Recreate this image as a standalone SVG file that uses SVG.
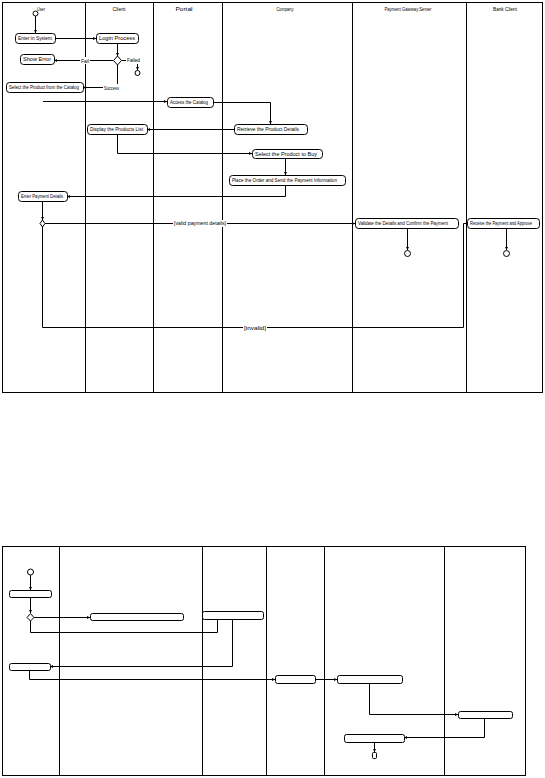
<svg xmlns="http://www.w3.org/2000/svg" width="545" height="778" viewBox="0 0 545 778">
<defs>
<style>
.frame{fill:none;stroke:#000;stroke-width:1}
.lane{stroke:#000;stroke-width:1}
.box{fill:#fff;stroke:#000;stroke-width:1}
.c{fill:none;stroke:#000;stroke-width:1}
.t{font-family:"Liberation Sans",Arial,sans-serif;font-size:4.5px;fill:#000}
.h{font-family:"Liberation Sans",Arial,sans-serif;font-size:4.5px;fill:#000;text-anchor:middle}
.lbl{font-family:"Liberation Sans",Arial,sans-serif;font-size:4.5px;fill:#000;text-anchor:middle}
.node{fill:#fff;stroke:#000;stroke-width:1}
</style>
<marker id="a" viewBox="0 0 6 6" refX="6" refY="3" markerWidth="3" markerHeight="3" orient="auto">
<path d="M0,0 L6,3 L0,6 z" fill="#000"/>
</marker>
</defs>
<rect width="545" height="778" fill="#fff"/>

<g id="top-frame">
<rect class="frame" x="2.5" y="2.5" width="540" height="390"/>
<line class="lane" x1="85.5" y1="2.5" x2="85.5" y2="392.5"/>
<line class="lane" x1="153.5" y1="2.5" x2="153.5" y2="392.5"/>
<line class="lane" x1="222.5" y1="2.5" x2="222.5" y2="392.5"/>
<line class="lane" x1="352.5" y1="2.5" x2="352.5" y2="392.5"/>
<line class="lane" x1="466.5" y1="2.5" x2="466.5" y2="392.5"/>
<text class="h" x="41" y="11" textLength="8" lengthAdjust="spacingAndGlyphs">User</text>
<text class="h" x="119" y="11" textLength="13" lengthAdjust="spacingAndGlyphs">Client</text>
<text class="h" x="184" y="11" textLength="17" lengthAdjust="spacingAndGlyphs">Portal</text>
<text class="h" x="285" y="11" textLength="17" lengthAdjust="spacingAndGlyphs">Company</text>
<text class="h" x="408" y="11" textLength="47" lengthAdjust="spacingAndGlyphs">Payment Gateway Server</text>
<text class="h" x="505" y="11" textLength="24" lengthAdjust="spacingAndGlyphs">Bank Client</text>
</g>

<g id="connectors-top">
<line class="c" x1="35.5" y1="16" x2="35.5" y2="33" marker-end="url(#a)"/>
<line class="c" x1="55" y1="38.5" x2="96" y2="38.5" marker-end="url(#a)"/>
<line class="c" x1="117.5" y1="43" x2="117.5" y2="56" marker-end="url(#a)"/>
<line class="c" x1="113" y1="60.5" x2="54" y2="60.5" marker-end="url(#a)"/>
<line class="c" x1="122" y1="60.5" x2="126" y2="60.5"/>
<line class="c" x1="137.5" y1="64" x2="137.5" y2="70" marker-end="url(#a)"/>
<polyline class="c" points="117.5,65 117.5,87.5 83,87.5" marker-end="url(#a)"/>
<line class="c" x1="43" y1="101.5" x2="167" y2="101.5" marker-end="url(#a)"/>
<polyline class="c" points="213,102.5 270.5,102.5 270.5,124" marker-end="url(#a)"/>
<line class="c" x1="234" y1="129.5" x2="147" y2="129.5" marker-end="url(#a)"/>
<polyline class="c" points="117.5,134 117.5,153.5 252,153.5" marker-end="url(#a)"/>
<line class="c" x1="285.5" y1="159" x2="285.5" y2="175" marker-end="url(#a)"/>
<polyline class="c" points="285.5,185 285.5,196.5 67,196.5" marker-end="url(#a)"/>
<line class="c" x1="42.5" y1="201" x2="42.5" y2="220" marker-end="url(#a)"/>
<line class="c" x1="45" y1="223.5" x2="355" y2="223.5" marker-end="url(#a)"/>
<polyline class="c" points="467,223.5 463.5,223.5 463.5,327.5 42.5,327.5 42.5,226"/>
<line class="c" x1="407.5" y1="228" x2="407.5" y2="250" marker-end="url(#a)"/>
<line class="c" x1="506.5" y1="228" x2="506.5" y2="250" marker-end="url(#a)"/>
<rect x="80" y="57" width="10" height="7" fill="#fff"/>
<text class="lbl" x="85" y="62.5" textLength="8" lengthAdjust="spacingAndGlyphs">Fail</text>
<text class="t" x="127" y="62" textLength="13" lengthAdjust="spacingAndGlyphs">Failed</text>
<rect x="103" y="84" width="17" height="7" fill="#fff"/>
<text class="lbl" x="111.5" y="89.5" textLength="15" lengthAdjust="spacingAndGlyphs">Success</text>
<rect x="173" y="220" width="54" height="7" fill="#fff"/>
<text class="lbl" x="200" y="225" textLength="52" lengthAdjust="spacingAndGlyphs">[valid payment details]</text>
<rect x="243" y="324" width="24" height="7" fill="#fff"/>
<text class="lbl" x="255" y="329.5" textLength="22" lengthAdjust="spacingAndGlyphs">[invalid]</text>
</g>

<g id="start-top"><circle class="node" cx="35.5" cy="13.5" r="2.5"/></g>
<g id="n1"><rect class="box" x="15.5" y="33.5" width="40" height="10" rx="3"/><text class="t" x="18" y="40" textLength="34" lengthAdjust="spacingAndGlyphs">Enter in System</text></g>
<g id="n2"><rect class="box" x="96.5" y="33.5" width="42" height="10" rx="3"/><text class="t" x="99" y="40" textLength="36" lengthAdjust="spacingAndGlyphs">Login Process</text></g>
<g id="dec1"><path class="node" d="M117.5,56 L121.5,60.5 L117.5,65 L113.5,60.5 z"/></g>
<g id="end-fail"><circle class="node" cx="137.5" cy="73" r="2.5"/></g>
<g id="n3"><rect class="box" x="20.5" y="54.5" width="34" height="10" rx="3"/><text class="t" x="23" y="61" textLength="28" lengthAdjust="spacingAndGlyphs">Show Error</text></g>
<g id="n4"><rect class="box" x="6.5" y="82.5" width="77" height="10" rx="3"/><text class="t" x="9" y="89" textLength="70" lengthAdjust="spacingAndGlyphs">Select the Product from the Catalog</text></g>
<g id="n5"><rect class="box" x="167.5" y="97.5" width="46" height="10" rx="3"/><text class="t" x="170" y="104" textLength="38" lengthAdjust="spacingAndGlyphs">Access the Catalog</text></g>
<g id="n6"><rect class="box" x="234.5" y="124.5" width="73" height="10" rx="3"/><text class="t" x="237" y="131" textLength="62" lengthAdjust="spacingAndGlyphs">Retrieve the Product Details</text></g>
<g id="n7"><rect class="box" x="87.5" y="124.5" width="60" height="10" rx="3"/><text class="t" x="90" y="131" textLength="53" lengthAdjust="spacingAndGlyphs">Display the Products List</text></g>
<g id="n8"><rect class="box" x="252.5" y="149.5" width="70" height="9" rx="3"/><text class="t" x="255" y="155.5" textLength="62" lengthAdjust="spacingAndGlyphs">Select the Product to Buy</text></g>
<g id="n9"><rect class="box" x="229.5" y="175.5" width="116" height="10" rx="3"/><text class="t" x="232" y="182" textLength="105" lengthAdjust="spacingAndGlyphs">Place the Order and Send the Payment Information</text></g>
<g id="n10"><rect class="box" x="18.5" y="191.5" width="49" height="10" rx="3"/><text class="t" x="21" y="198" textLength="42" lengthAdjust="spacingAndGlyphs">Enter Payment Details</text></g>
<g id="merge"><path class="node" d="M42.5,220 L45,223.5 L42.5,227 L40,223.5 z"/></g>
<g id="n11"><rect class="box" x="355.5" y="218.5" width="103" height="10" rx="3"/><text class="t" x="358" y="225" textLength="90" lengthAdjust="spacingAndGlyphs">Validate the Details and Confirm the Payment</text></g>
<g id="n12"><rect class="box" x="467.5" y="218.5" width="72" height="10" rx="3"/><text class="t" x="470" y="225" textLength="62" lengthAdjust="spacingAndGlyphs">Receive the Payment and Approve</text></g>
<g id="end11"><circle class="node" cx="407.5" cy="253.5" r="3"/></g>
<g id="end12"><circle class="node" cx="506.5" cy="253.5" r="3"/></g>

<g id="bottom-frame">
<rect class="frame" x="2.5" y="546.5" width="523" height="229"/>
<line class="lane" x1="59.5" y1="546.5" x2="59.5" y2="775.5"/>
<line class="lane" x1="202.5" y1="546.5" x2="202.5" y2="775.5"/>
<line class="lane" x1="266.5" y1="546.5" x2="266.5" y2="775.5"/>
<line class="lane" x1="324.5" y1="546.5" x2="324.5" y2="775.5"/>
<line class="lane" x1="444.5" y1="546.5" x2="444.5" y2="775.5"/>
</g>

<g id="connectors-bottom">
<line class="c" x1="30.5" y1="575" x2="30.5" y2="590" marker-end="url(#a)"/>
<line class="c" x1="30.5" y1="597" x2="30.5" y2="613" marker-end="url(#a)"/>
<line class="c" x1="34" y1="617.5" x2="90" y2="617.5" marker-end="url(#a)"/>
<polyline class="c" points="217.5,619 217.5,632.5 30.5,632.5 30.5,621"/>
<polyline class="c" points="232.5,619 232.5,666.5 50,666.5" marker-end="url(#a)"/>
<polyline class="c" points="29.5,670 29.5,679.5 275,679.5" marker-end="url(#a)"/>
<line class="c" x1="315" y1="679.5" x2="337" y2="679.5" marker-end="url(#a)"/>
<polyline class="c" points="369.5,683 369.5,714.5 458,714.5" marker-end="url(#a)"/>
<polyline class="c" points="484.5,718 484.5,737.5 404,737.5" marker-end="url(#a)"/>
<line class="c" x1="374.5" y1="742" x2="374.5" y2="752" marker-end="url(#a)"/>
</g>

<g id="start-bottom"><circle class="node" cx="30.5" cy="572" r="3"/></g>
<g id="bA"><rect class="box" x="9.5" y="590.5" width="42" height="7" rx="2"/></g>
<g id="bDec"><path class="node" d="M30.5,613.5 L34,617.5 L30.5,621 L27,617.5 z"/></g>
<g id="bB"><rect class="box" x="90.5" y="613.5" width="93" height="7" rx="2"/></g>
<g id="bC"><rect class="box" x="202.5" y="611.5" width="61" height="8" rx="2"/></g>
<g id="bD"><rect class="box" x="9.5" y="663.5" width="41" height="7" rx="2"/></g>
<g id="bE"><rect class="box" x="275.5" y="675.5" width="40" height="8" rx="2"/></g>
<g id="bF"><rect class="box" x="337.5" y="675.5" width="65" height="8" rx="2"/></g>
<g id="bG"><rect class="box" x="458.5" y="711.5" width="54" height="7" rx="2"/></g>
<g id="bH"><rect class="box" x="344.5" y="734.5" width="60" height="8" rx="2"/></g>
<g id="end-bottom"><rect class="node" x="372.5" y="752.5" width="4" height="6" rx="1"/></g>
</svg>
